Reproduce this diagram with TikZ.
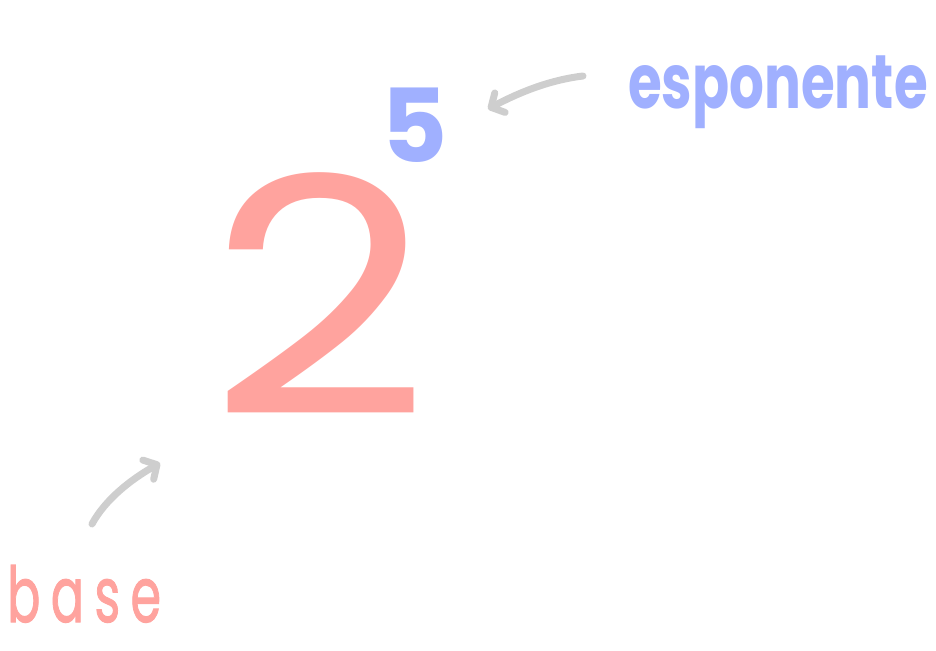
\documentclass[tikz,border=0pt]{standalone}
\usepackage{fontspec}
\setmainfont{Poppins}
\usetikzlibrary{arrows.meta}
\definecolor{pinkc}{RGB}{255,163,158}
\definecolor{bluec}{RGB}{160,176,255}
\definecolor{grayc}{RGB}{206,206,206}
\tikzset{
  arr/.style={draw=grayc, line width=7pt, line cap=round,
    -{Straight Barb[length=10pt,width=22pt,round]}},
}
\begin{document}
\begin{tikzpicture}[x=1pt,y=-1pt]
\useasboundingbox (0,0) rectangle (936,650);
\node[text=pinkc, font=\fontsize{330}{330}\selectfont, xscale=1.17, inner sep=0] (two) at (320,294) {2};
\node[text=bluec, font=\fontsize{102}{102}\bfseries, inner sep=0] (five) at (415,125) {5};
\node[text=bluec, font=\fontsize{76}{76}\bfseries, xscale=0.72, inner sep=0, anchor=base west] (esp) at (628,109) {esponente};
\node[text=pinkc, font=\fontsize{77}{77}\selectfont\addfontfeature{LetterSpace=21,FakeBold=1.5}, xscale=0.64, inner sep=0, text depth=0pt, anchor=base west] (base) at (7,622) {base};
\coordinate (e1) at (583,76);
\coordinate (e2) at (488,109);
\coordinate (b1) at (92,524);
\coordinate (b2) at (160,463);
\draw[arr] (e1) .. controls (550,80) and (520,92) .. (e2);
\draw[arr] (b1) .. controls (105,500) and (130,480) .. (b2);
\end{tikzpicture}
\end{document}
